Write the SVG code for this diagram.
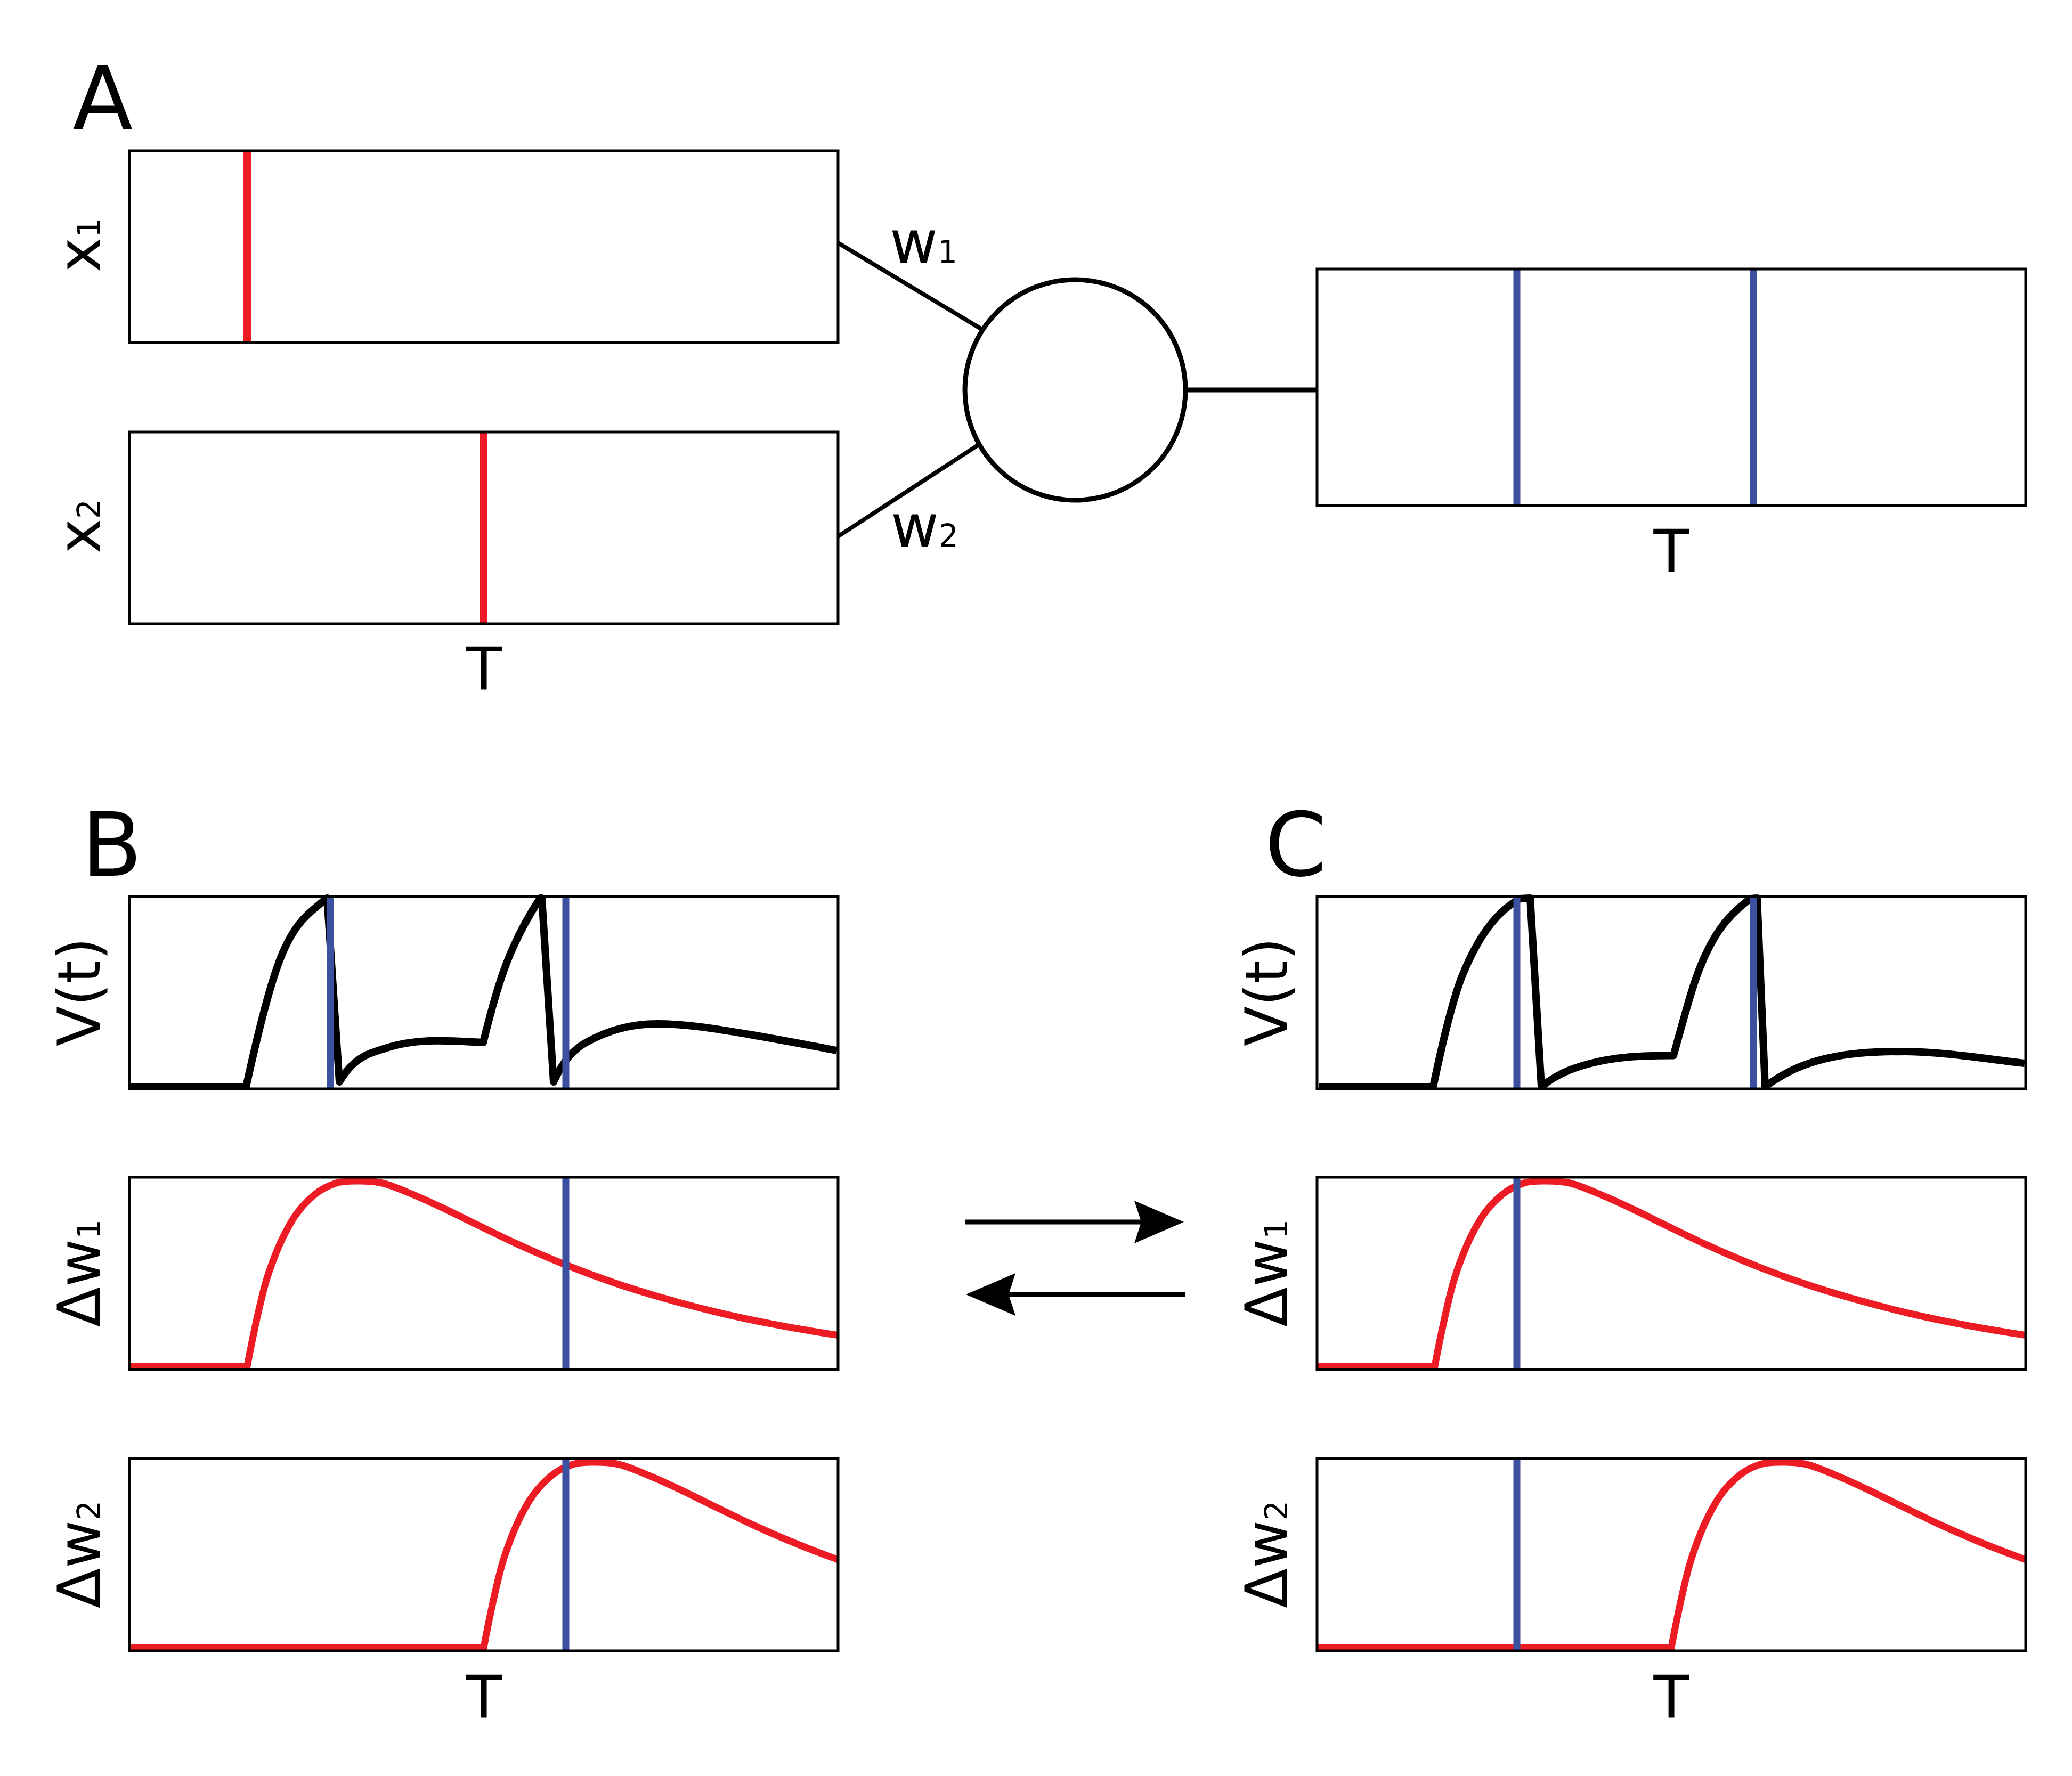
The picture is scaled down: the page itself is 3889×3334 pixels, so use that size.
<svg xmlns="http://www.w3.org/2000/svg" xmlns:xlink="http://www.w3.org/1999/xlink" width="3889" height="3334" viewBox="0 0 3889 3334">
<style>
.box{fill:none;stroke:#000;stroke-width:5}
.spR{stroke:#ed1c24;stroke-width:14}
.spB{stroke:#3c50a0;stroke-width:13}
.v{fill:none;stroke:#000;stroke-width:14;stroke-linejoin:round}
.dw{fill:none;stroke:#ed1c24;stroke-width:13;stroke-linejoin:round}
.edge{stroke:#000;stroke-width:8;fill:none}
.arr{stroke:#000;stroke-width:9;fill:none;marker-end:url(#ah)}
text{font-family:"DejaVu Sans","Liberation Sans",sans-serif;fill:#000}
.lab{font-size:110px}
.big{font-size:166px}
.sub{font-size:58px}
</style>
<defs>
<marker id="ah" markerUnits="userSpaceOnUse" viewBox="0 -45 100 90" markerWidth="100" markerHeight="90" refX="13" refY="0" orient="auto" overflow="visible">
<path d="M0,-40 L93,0 L0,40 L13,0 Z" fill="#000"/>
</marker>
<path id="dwc" class="dw" d="M -700 0 L 0 0 C 5 -27.5 10 -51.75 15 -75 C 21.33 -104.45 27.67 -132.39 34 -155 C 41 -180 48 -197.5 55 -215 C 65 -240 75 -258.6 85 -275 C 98.67 -297.41 112.33 -310.52 126 -322 C 139.67 -333.48 153.33 -339.67 167 -344 C 180.67 -348.33 194.33 -347.84 208 -348 C 221.67 -348.16 235.33 -347.58 249 -345 C 269.33 -341.16 289.67 -331.26 310 -323 C 330.33 -314.74 350.67 -305.07 371 -295.5 C 391.33 -285.93 411.67 -275.48 432 -265.6 C 456 -253.94 480 -242.02 504 -231 C 535.67 -216.46 567.33 -202.75 599 -190.1 C 628.33 -178.38 657.67 -167.54 687 -157.5 C 721 -145.86 755 -135.58 789 -125.9 C 823 -116.22 857 -107.38 891 -99.4 C 925.33 -91.34 959.67 -84.34 994 -77.8 C 1031.33 -70.69 1068.67 -64.6 1106 -58.8 C 1137.33 -53.93 1168.67 -49.37 1200 -45.3"/>
<clipPath id="clipB"><rect x="243" y="0" width="1330" height="3334"/></clipPath>
<clipPath id="clipC"><rect x="2472" y="0" width="1330" height="3334"/></clipPath>
</defs>
<rect x="0" y="0" width="3889" height="3334" fill="#fff"/>

<g id="panel-labels">
<text class="big" x="136" y="243">A</text>
<text class="big" x="153" y="1644">B</text>
<text class="big" x="2374" y="1644">C</text>
</g>

<g id="connectors">
<line class="edge" x1="1573" y1="456" x2="1841" y2="617"/>
<line class="edge" x1="1573" y1="1007" x2="1838" y2="834"/>
<line class="edge" x1="2225" y1="732" x2="2472" y2="732" style="stroke-width:9"/>
<line class="arr" x1="1811" y1="2294" x2="2142" y2="2294"/>
<line class="arr" x1="2224" y1="2430" x2="1893" y2="2430"/>
</g>

<g id="input-x1">
<line class="spR" x1="464" y1="283" x2="464" y2="643"/>
<rect class="box" x="243" y="283" width="1330" height="360"/>
<text class="lab" transform="translate(187,460) rotate(-90)" text-anchor="middle">x<tspan class="sub">1</tspan></text>
</g>

<g id="input-x2">
<line class="spR" x1="908" y1="811" x2="908" y2="1171"/>
<rect class="box" x="243" y="811" width="1330" height="360"/>
<text class="lab" transform="translate(187,988) rotate(-90)" text-anchor="middle">x<tspan class="sub">2</tspan></text>
<text class="lab" x="908" y="1295" text-anchor="middle">T</text>
</g>

<g id="weight-labels">
<text class="lab" x="1670" y="493">w<tspan class="sub">1</tspan></text>
<text class="lab" x="1672" y="1026">w<tspan class="sub">2</tspan></text>
</g>

<g id="neuron">
<circle cx="2018" cy="732" r="207" fill="none" stroke="#000" stroke-width="9"/>
</g>

<g id="output">
<line class="spB" x1="2847" y1="505" x2="2847" y2="949"/>
<line class="spB" x1="3291" y1="505" x2="3291" y2="949"/>
<rect class="box" x="2472" y="505" width="1330" height="444"/>
<text class="lab" x="3137" y="1074" text-anchor="middle">T</text>
</g>

<g id="B-V">
<path class="v" d="M 246 2040 L 462 2040 C 482.7 1944.8 503.3 1860.3 524 1805 C 553.3 1726.8 582.7 1713.4 612 1687 L 614 1686 L 637 2031 C 665.7 1982.2 694.3 1977.5 723 1968 C 784.3 1947.8 845.7 1954 907 1957 C 922 1895.5 937 1843.1 952 1805 C 972.7 1752.4 993.3 1717 1014 1686 L 1017 1686 L 1039 2031 C 1059.3 1986.3 1079.7 1968.4 1100 1957 C 1144.3 1932.2 1188.7 1922 1233 1922 C 1291 1922 1349 1932.1 1407 1942 C 1462.3 1951.4 1517.7 1962 1571 1972"/>
<line class="spB" x1="620" y1="1683" x2="620" y2="2044"/>
<line class="spB" x1="1062" y1="1683" x2="1062" y2="2044"/>
<rect class="box" x="243" y="1683" width="1330" height="361"/>
<text class="lab" transform="translate(187,1862) rotate(-90)" text-anchor="middle">V(t)</text>
</g>

<g id="B-dw1">
<g clip-path="url(#clipB)"><use xlink:href="#dwc" transform="translate(464,2565)"/></g>
<line class="spB" x1="1062" y1="2210" x2="1062" y2="2571"/>
<rect class="box" x="243" y="2210" width="1330" height="361"/>
<text class="lab" transform="translate(187,2390) rotate(-90)" text-anchor="middle">Δw<tspan class="sub">1</tspan></text>
</g>

<g id="B-dw2">
<g clip-path="url(#clipB)"><use xlink:href="#dwc" transform="translate(908,3093)"/></g>
<line class="spB" x1="1062" y1="2738" x2="1062" y2="3099"/>
<rect class="box" x="243" y="2738" width="1330" height="361"/>
<text class="lab" transform="translate(187,2918) rotate(-90)" text-anchor="middle">Δw<tspan class="sub">2</tspan></text>
<text class="lab" x="908" y="3225" text-anchor="middle">T</text>
</g>

<g id="C-V">
<path class="v" d="M 2475 2040 L 2690 2040 C 2708.7 1950.2 2727.3 1873.1 2746 1828 C 2781.3 1742.9 2816.7 1708.2 2852 1687 L 2872 1686 L 2893 2040 C 2928.3 2011.8 2963.7 2000.8 2999 1993 C 3046.3 1982.6 3093.7 1981.5 3141 1981.5 C 3158 1920.3 3175 1854.4 3192 1813 C 3223 1737 3254 1711.8 3285 1687 L 3298 1686 L 3313 2040 C 3343.7 2017 3374.3 2002.2 3405 1993 C 3462.3 1975.8 3519.7 1974 3577 1974 C 3652 1975 3727 1987.8 3800 1996"/>
<line class="spB" x1="2847" y1="1683" x2="2847" y2="2044"/>
<line class="spB" x1="3291" y1="1683" x2="3291" y2="2044"/>
<rect class="box" x="2472" y="1683" width="1330" height="361"/>
<text class="lab" transform="translate(2416,1862) rotate(-90)" text-anchor="middle">V(t)</text>
</g>

<g id="C-dw1">
<g clip-path="url(#clipC)"><use xlink:href="#dwc" transform="translate(2693,2565)"/></g>
<line class="spB" x1="2847" y1="2210" x2="2847" y2="2571"/>
<rect class="box" x="2472" y="2210" width="1330" height="361"/>
<text class="lab" transform="translate(2416,2390) rotate(-90)" text-anchor="middle">Δw<tspan class="sub">1</tspan></text>
</g>

<g id="C-dw2">
<g clip-path="url(#clipC)"><use xlink:href="#dwc" transform="translate(3137,3093)"/></g>
<line class="spB" x1="2847" y1="2738" x2="2847" y2="3099"/>
<rect class="box" x="2472" y="2738" width="1330" height="361"/>
<text class="lab" transform="translate(2416,2918) rotate(-90)" text-anchor="middle">Δw<tspan class="sub">2</tspan></text>
<text class="lab" x="3137" y="3225" text-anchor="middle">T</text>
</g>
</svg>
